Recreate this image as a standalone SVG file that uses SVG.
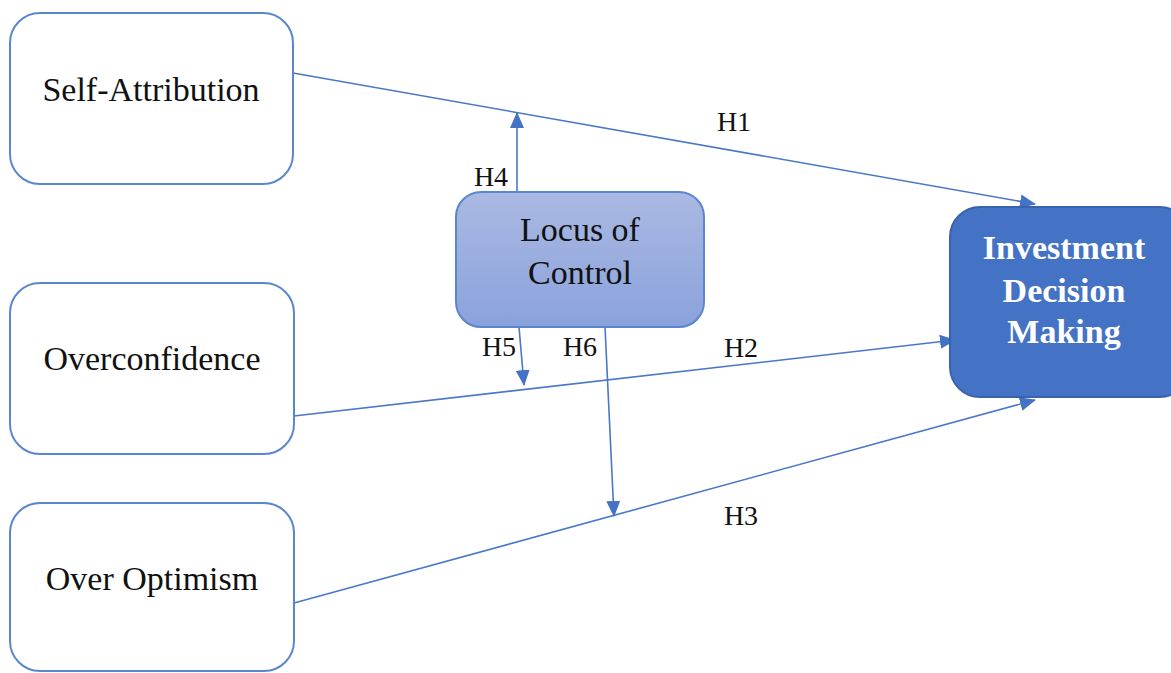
<svg xmlns="http://www.w3.org/2000/svg" width="1171" height="673" viewBox="0 0 1171 673">
<defs>
<style>
.box{fill:#fff;stroke:#5A86D0;stroke-width:2}
.t{font-family:"Liberation Serif","Times New Roman",serif;font-size:34px;fill:#111;text-anchor:middle}
.tb{font-family:"Liberation Serif","Times New Roman",serif;font-size:34px;font-weight:bold;fill:#fff;text-anchor:middle}
.h{font-family:"Liberation Serif","Times New Roman",serif;font-size:28px;fill:#111;text-anchor:middle}
.c{stroke:#4A78C8;stroke-width:1.6;fill:none;marker-end:url(#ah)}
</style>
<marker id="ah" viewBox="0 0 16 14" refX="15" refY="7" markerWidth="16" markerHeight="14" markerUnits="userSpaceOnUse" orient="auto">
<path d="M0,0 L16,7 L0,14 z" fill="#4472C4"/>
</marker>
<linearGradient id="lg" x1="0" y1="0" x2="0" y2="1">
<stop offset="0" stop-color="#AAB9E2"/>
<stop offset="1" stop-color="#8AA2DC"/>
</linearGradient>
</defs>
<g id="connectors">
<line class="c" x1="293" y1="73" x2="1035" y2="204"/>
<line class="c" x1="294" y1="416" x2="955" y2="340"/>
<line class="c" x1="294" y1="603" x2="1035" y2="400"/>
<line class="c" x1="517" y1="192" x2="517" y2="113"/>
<line class="c" x1="519" y1="327" x2="524" y2="385"/>
<line class="c" x1="605" y1="327" x2="614" y2="516"/>
<text class="h" x="734" y="131">H1</text>
<text class="h" x="491" y="186">H4</text>
<text class="h" x="499" y="356">H5</text>
<text class="h" x="580" y="356">H6</text>
<text class="h" x="741" y="357">H2</text>
<text class="h" x="741" y="525">H3</text>
</g>
<g id="self-attribution">
<rect class="box" x="10" y="13" width="283" height="171" rx="30"/>
<text class="t" x="151" y="101">Self-Attribution</text>
</g>
<g id="overconfidence">
<rect class="box" x="10" y="283" width="284" height="171" rx="30"/>
<text class="t" x="152" y="370">Overconfidence</text>
</g>
<g id="over-optimism">
<rect class="box" x="10" y="503" width="284" height="168" rx="30"/>
<text class="t" x="152" y="590">Over Optimism</text>
</g>
<g id="locus-of-control">
<rect x="456" y="192" width="248" height="135" rx="25" fill="url(#lg)" stroke="#5A86D0" stroke-width="2"/>
<text class="t" x="580" y="241">Locus of</text>
<text class="t" x="580" y="284">Control</text>
</g>
<g id="investment-decision-making">
<rect x="950" y="207" width="240" height="190" rx="30" fill="#4472C4" stroke="#3A63AE" stroke-width="2"/>
<text class="tb" x="1064" y="259">Investment</text>
<text class="tb" x="1064" y="302">Decision</text>
<text class="tb" x="1064" y="343">Making</text>
</g>
</svg>
